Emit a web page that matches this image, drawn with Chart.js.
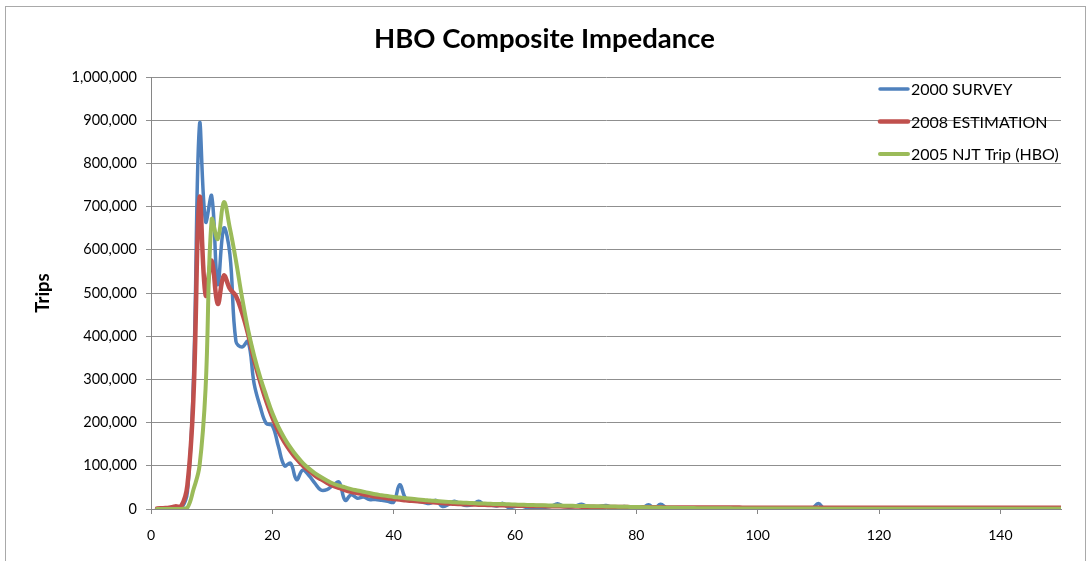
<!DOCTYPE html>
<html>
<head>
<meta charset="utf-8">
<title>HBO Composite Impedance</title>
<script src="https://cdn.jsdelivr.net/npm/chart.js@4.4.1/dist/chart.umd.min.js"></script>
<style>
    html, body { margin: 0; padding: 0; background: #fff; }
    #wrap { width: 1086px; height: 561px; }
</style>
</head>
<body>
<div id="wrap"><canvas id="impedanceChart" width="1086" height="561"></canvas></div>
<script>
// Trips by composite impedance bin (1..150)
const survey2000 = [
    0, 1000, 3000, 3000, 2000, 40000, 300000, 890000, 665000, 725000,
    520000, 650000, 590000, 388000, 375000, 388000, 290000, 237000, 198000, 193000,
    145000, 100000, 106000, 68000, 90000, 78000, 60000, 44000, 45000, 55000,
    62000, 20000, 33000, 25000, 28000, 22000, 22000, 20000, 18000, 16000,
    56000, 24000, 20000, 18000, 15000, 13000, 20000, 6000, 10000, 18000,
    12000, 8000, 10000, 18000, 9000, 9000, 7000, 13000, 3000, 6000,
    7000, 3000, 1000, 2000, 4000, 6000, 12000, 6000, 4000, 7000,
    11000, 5000, 4000, 6000, 8000, 4000, 3000, 6000, 3000, 2000,
    2000, 10000, 2000, 11000, 2000, 1000, 2000, 1000, 1000, 2000,
    1000, 2000, 1000, 1000, 1000, 1000, 1000, 1000, 0, 1000,
    2000, 1000, 2000, 0, 1000, 0, 1000, 0, 1000, 13000,
    0, 1000, 0, 0, 1000, 0, 0, 1000, 0, 0,
    0, 0, 0, 0, 0, 0, 0, 0, 0, 0,
    0, 0, 0, 0, 0, 0, 0, 0, 0, 0,
    0, 0, 0, 0, 0, 0, 0, 0, 0, 0
];

const estimation2008 = [
    1000, 2000, 3000, 6000, 7000, 55000, 260000, 720000, 495000, 575000,
    475000, 540000, 510000, 493000, 455000, 405000, 345000, 295000, 250000, 212000,
    180000, 155000, 134000, 116000, 101000, 89000, 78000, 69000, 61000, 54000,
    49000, 44000, 40000, 37000, 34000, 31000, 29000, 27000, 25000, 23000,
    22000, 20000, 19000, 18000, 17000, 16000, 15000, 14000, 13000, 12000,
    11500, 11000, 10500, 10000, 9600, 9200, 8800, 8500, 8200, 7900,
    7600, 7300, 7100, 6800, 6600, 6400, 6200, 6000, 5800, 5600,
    5400, 5200, 5000, 4800, 4700, 4600, 4500, 4400, 4300, 4200,
    4100, 4000, 3900, 3800, 3700, 3600, 3500, 3500, 3400, 3400,
    3300, 3300, 3300, 3200, 3200, 3200, 3200, 3100, 3100, 3100,
    3100, 3100, 3100, 3000, 3000, 3000, 3000, 3000, 3000, 3000,
    3000, 3000, 3000, 3000, 3000, 3000, 3000, 3000, 3000, 3000,
    3000, 3000, 3000, 3000, 3000, 3000, 3000, 3000, 3000, 3000,
    3000, 3000, 3000, 3000, 3000, 3000, 3000, 3000, 3000, 3000,
    3000, 3000, 3000, 3000, 3000, 3000, 3000, 3000, 3000, 3000
];

const njtTrip2005 = [
    0, 0, 0, 0, 0, 3000, 45000, 100000, 280000, 670000,
    625000, 710000, 650000, 575000, 490000, 415000, 355000, 305000, 262000, 222000,
    190000, 164000, 142000, 123000, 107000, 94000, 83000, 74000, 66000, 59000,
    54000, 50000, 46000, 43000, 40000, 37000, 34000, 32000, 30000, 28000,
    26500, 25000, 23500, 22000, 21000, 19500, 18500, 17500, 16500, 15500,
    15000, 14300, 13700, 13000, 12500, 12000, 11500, 11500, 10800, 10300,
    9900, 9500, 9100, 8800, 8500, 8200, 8000, 7700, 7500, 7200,
    7000, 6800, 6500, 6300, 6000, 5700, 5400, 5100, 4800, 4500,
    4200, 3900, 3600, 3300, 3000, 2800, 2600, 2400, 2200, 2000,
    1900, 1800, 1700, 1600, 1500, 1400, 1300, 1250, 1200, 1200,
    1100, 1100, 1000, 1000, 1000, 950, 950, 900, 900, 900,
    800, 800, 800, 800, 800, 800, 800, 800, 800, 800,
    800, 800, 800, 800, 800, 800, 800, 800, 800, 800,
    800, 800, 800, 800, 800, 800, 800, 800, 800, 800,
    800, 800, 800, 800, 800, 800, 800, 800, 800, 800
];

const bins = survey2000.map((_, i) => i + 1);
const seriesNames = ['2000 SURVEY', '2008 ESTIMATION', '2005 NJT Trip (HBO)'];
const seriesColors = ['#4F81BD', '#C0504D', '#9BBB59'];
const xTicks = [0, 20, 40, 60, 80, 100, 120, 140];

const FONT = 'Lato, "Open Sans", sans-serif';

// light frame round the whole chart
const chartFrame = {
    id: 'chartFrame',
    beforeDraw(chart) {
        const ctx = chart.ctx;
        ctx.save();
        ctx.fillStyle = '#fff';
        ctx.fillRect(0, 0, chart.width, chart.height);
        ctx.strokeStyle = '#a9a9a9';
        ctx.lineWidth = 1;
        ctx.strokeRect(5.5, 6.5, chart.width - 6, chart.height);
        ctx.restore();
    }
};

// legend sits inside the plot, top right, no box
const insideLegend = {
    id: 'insideLegend',
    afterDatasetsDraw(chart) {
        const ctx = chart.ctx;
        const left = chart.chartArea.right - 181;
        ctx.save();
        ctx.font = '16px ' + FONT;
        ctx.textBaseline = 'middle';
        ctx.textAlign = 'left';
        chart.data.datasets.forEach((ds, i) => {
            const y = chart.chartArea.top + 12 + i * 32.5;
            ctx.strokeStyle = ds.borderColor;
            ctx.lineWidth = ds.borderWidth;
            ctx.lineCap = 'round';
            ctx.beginPath();
            ctx.moveTo(left, y);
            ctx.lineTo(left + 28, y);
            ctx.stroke();
            ctx.fillStyle = '#000';
            ctx.fillText(ds.label, left + 31, y + 1);
        });
        ctx.restore();
    }
};

const ctx = document.getElementById('impedanceChart').getContext('2d');
new Chart(ctx, {
    type: 'line',
    data: {
        labels: bins,
        datasets: [
            { label: seriesNames[0], data: survey2000, borderColor: seriesColors[0], borderWidth: 3.5, order: 2 },
            { label: seriesNames[1], data: estimation2008, borderColor: seriesColors[1], borderWidth: 4.5, order: 1 },
            { label: seriesNames[2], data: njtTrip2005, borderColor: seriesColors[2], borderWidth: 4, order: 0 }
        ]
    },
    options: {
        responsive: false,
        animation: false,
        layout: { padding: { left: 28, right: 25, top: 12, bottom: 0 } },
        elements: {
            point: { radius: 0 },
            line: { tension: 0.4, fill: false, borderCapStyle: 'round', borderJoinStyle: 'round' }
        },
        plugins: {
            legend: { display: false },
            tooltip: { enabled: false },
            title: {
                display: true,
                text: 'HBO Composite Impedance',
                color: '#000',
                font: { family: FONT, size: 27.5, weight: 'bold' },
                padding: { top: 11, bottom: 21 }
            }
        },
        scales: {
            x: {
                type: 'linear',
                min: 0,
                max: 150,
                afterBuildTicks: (scale) => { scale.ticks = xTicks.map(v => ({ value: v })); },
                ticks: { color: '#000', font: { family: FONT, size: 14 }, padding: 13, maxRotation: 0 },
                grid: { drawOnChartArea: false, tickLength: 5, color: '#868686' },
                border: { color: '#868686' },
                afterFit: (scale) => { scale.height = 52; }
            },
            y: {
                min: 0,
                max: 1000000,
                ticks: {
                    stepSize: 100000,
                    color: '#000',
                    font: { family: FONT, size: 14.5 },
                    padding: 9,
                    callback: (v) => v.toLocaleString('en-US')
                },
                grid: { color: '#8f8f8f', tickLength: 5 },
                border: { color: '#868686' },
                title: {
                    display: true,
                    text: 'Trips',
                    color: '#000',
                    font: { family: FONT, size: 18.5, weight: 'bold' },
                    padding: { top: 4, bottom: 4 }
                },
                afterFit: (scale) => { scale.width = 123; }
            }
        }
    },
    plugins: [chartFrame, insideLegend]
});
</script>
</body>
</html>
